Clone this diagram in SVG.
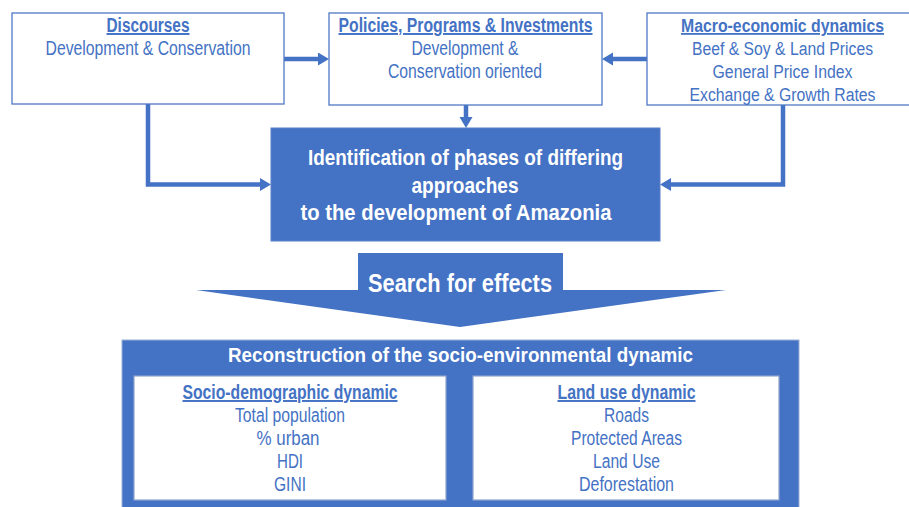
<svg xmlns="http://www.w3.org/2000/svg" width="909" height="507" viewBox="0 0 909 507">
  <style>
    .box { fill: #ffffff; stroke: #4f78c4; stroke-width: 1.3; }
    .solid { fill: #4472c4; }
    .inner { fill: #ffffff; stroke: #8fa3cc; stroke-width: 1.2; }
    .t { font-family: "Liberation Sans", Arial, sans-serif; font-size: 19.5px; fill: #4472c4; text-anchor: middle; }
    .s { font-size: 18px; }
    .h { font-weight: bold; text-decoration: underline; }
    .w { font-family: "Liberation Sans", Arial, sans-serif; font-weight: bold; fill: #ffffff; text-anchor: middle; }
    .link { fill: none; stroke: #4472c4; stroke-width: 4.5; marker-end: url(#head); }
  </style>
  <defs>
    <marker id="head" markerUnits="userSpaceOnUse" markerWidth="12" markerHeight="14" refX="2" refY="6.5" orient="auto">
      <path d="M0,0 L11,6.5 L0,13 z" fill="#4472c4"/>
    </marker>
  </defs>

  <rect width="909" height="507" fill="#ffffff"/>

  <!-- connectors -->
  <g id="connectors">
    <path class="link" d="M284,59 H320"/>
    <path class="link" d="M647,59 H611"/>
    <path class="link" d="M466,105 V119"/>
    <path class="link" d="M148,104 V184.5 H262"/>
    <path class="link" d="M783,105 V184.5 H669"/>
  </g>

  <g id="discourses">
    <rect class="box" x="12" y="13" width="272" height="91"/>
    <text class="t h" x="148" y="32" textLength="83" lengthAdjust="spacingAndGlyphs">Discourses</text>
    <text class="t" x="148" y="55" textLength="205" lengthAdjust="spacingAndGlyphs">Development &amp; Conservation</text>
  </g>

  <g id="policies">
    <rect class="box" x="329" y="13" width="273" height="92"/>
    <text class="t h" x="465.5" y="32" textLength="254" lengthAdjust="spacingAndGlyphs">Policies, Programs &amp; Investments</text>
    <text class="t" x="465" y="55" textLength="107" lengthAdjust="spacingAndGlyphs">Development &amp;</text>
    <text class="t" x="465" y="78" textLength="154" lengthAdjust="spacingAndGlyphs">Conservation oriented</text>
  </g>

  <!-- this box runs past the right edge of the page -->
  <g id="macro">
    <rect class="box" x="647" y="13" width="272" height="92"/>
    <text class="t s h" x="782.5" y="32" textLength="203" lengthAdjust="spacingAndGlyphs">Macro-economic dynamics</text>
    <text class="t s" x="782.5" y="55" textLength="181" lengthAdjust="spacingAndGlyphs">Beef &amp; Soy &amp; Land Prices</text>
    <text class="t s" x="782.5" y="78" textLength="140" lengthAdjust="spacingAndGlyphs">General Price Index</text>
    <text class="t s" x="782.5" y="101" textLength="186" lengthAdjust="spacingAndGlyphs">Exchange &amp; Growth Rates</text>
  </g>

  <g id="phases">
    <rect class="solid" x="271" y="128" width="389" height="113" stroke="#5a80c8" stroke-width="1"/>
    <text class="w" x="465.5" y="165" font-size="22" textLength="315" lengthAdjust="spacingAndGlyphs">Identification of phases of differing</text>
    <text class="w" x="465" y="192.5" font-size="22" textLength="107" lengthAdjust="spacingAndGlyphs">approaches</text>
    <text class="w" x="456" y="220" font-size="22" textLength="311" lengthAdjust="spacingAndGlyphs">to the development of Amazonia</text>
  </g>

  <g id="search">
    <polygon class="solid" points="358,253 563,253 563,290 726,290 460,327 196,290 358,290"/>
    <text class="w" x="460" y="292" font-size="26" textLength="184" lengthAdjust="spacingAndGlyphs">Search for effects</text>
  </g>

  <g id="reconstruction">
    <rect class="solid" x="122" y="340" width="677" height="172" stroke="#9db0d6" stroke-width="1"/>
    <text class="w" x="460.5" y="362" font-size="21" textLength="465" lengthAdjust="spacingAndGlyphs">Reconstruction of the socio-environmental dynamic</text>
  </g>

  <g id="socio-demographic">
    <rect class="inner" x="134" y="376" width="312" height="124"/>
    <text class="t h" x="290" y="399" textLength="215" lengthAdjust="spacingAndGlyphs">Socio-demographic dynamic</text>
    <text class="t" x="290" y="422" textLength="110" lengthAdjust="spacingAndGlyphs">Total population</text>
    <text class="t" x="288" y="445" textLength="63" lengthAdjust="spacingAndGlyphs">% urban</text>
    <text class="t" x="290" y="468" textLength="26" lengthAdjust="spacingAndGlyphs">HDI</text>
    <text class="t" x="290" y="491" textLength="32" lengthAdjust="spacingAndGlyphs">GINI</text>
  </g>

  <g id="land-use">
    <rect class="inner" x="473" y="376" width="306" height="124"/>
    <text class="t h" x="626.5" y="399" textLength="138" lengthAdjust="spacingAndGlyphs">Land use dynamic</text>
    <text class="t" x="626.5" y="422" textLength="45" lengthAdjust="spacingAndGlyphs">Roads</text>
    <text class="t" x="626.5" y="445" textLength="111" lengthAdjust="spacingAndGlyphs">Protected Areas</text>
    <text class="t" x="626.5" y="468" textLength="67" lengthAdjust="spacingAndGlyphs">Land Use</text>
    <text class="t" x="626.5" y="491" textLength="95" lengthAdjust="spacingAndGlyphs">Deforestation</text>
  </g>
</svg>
